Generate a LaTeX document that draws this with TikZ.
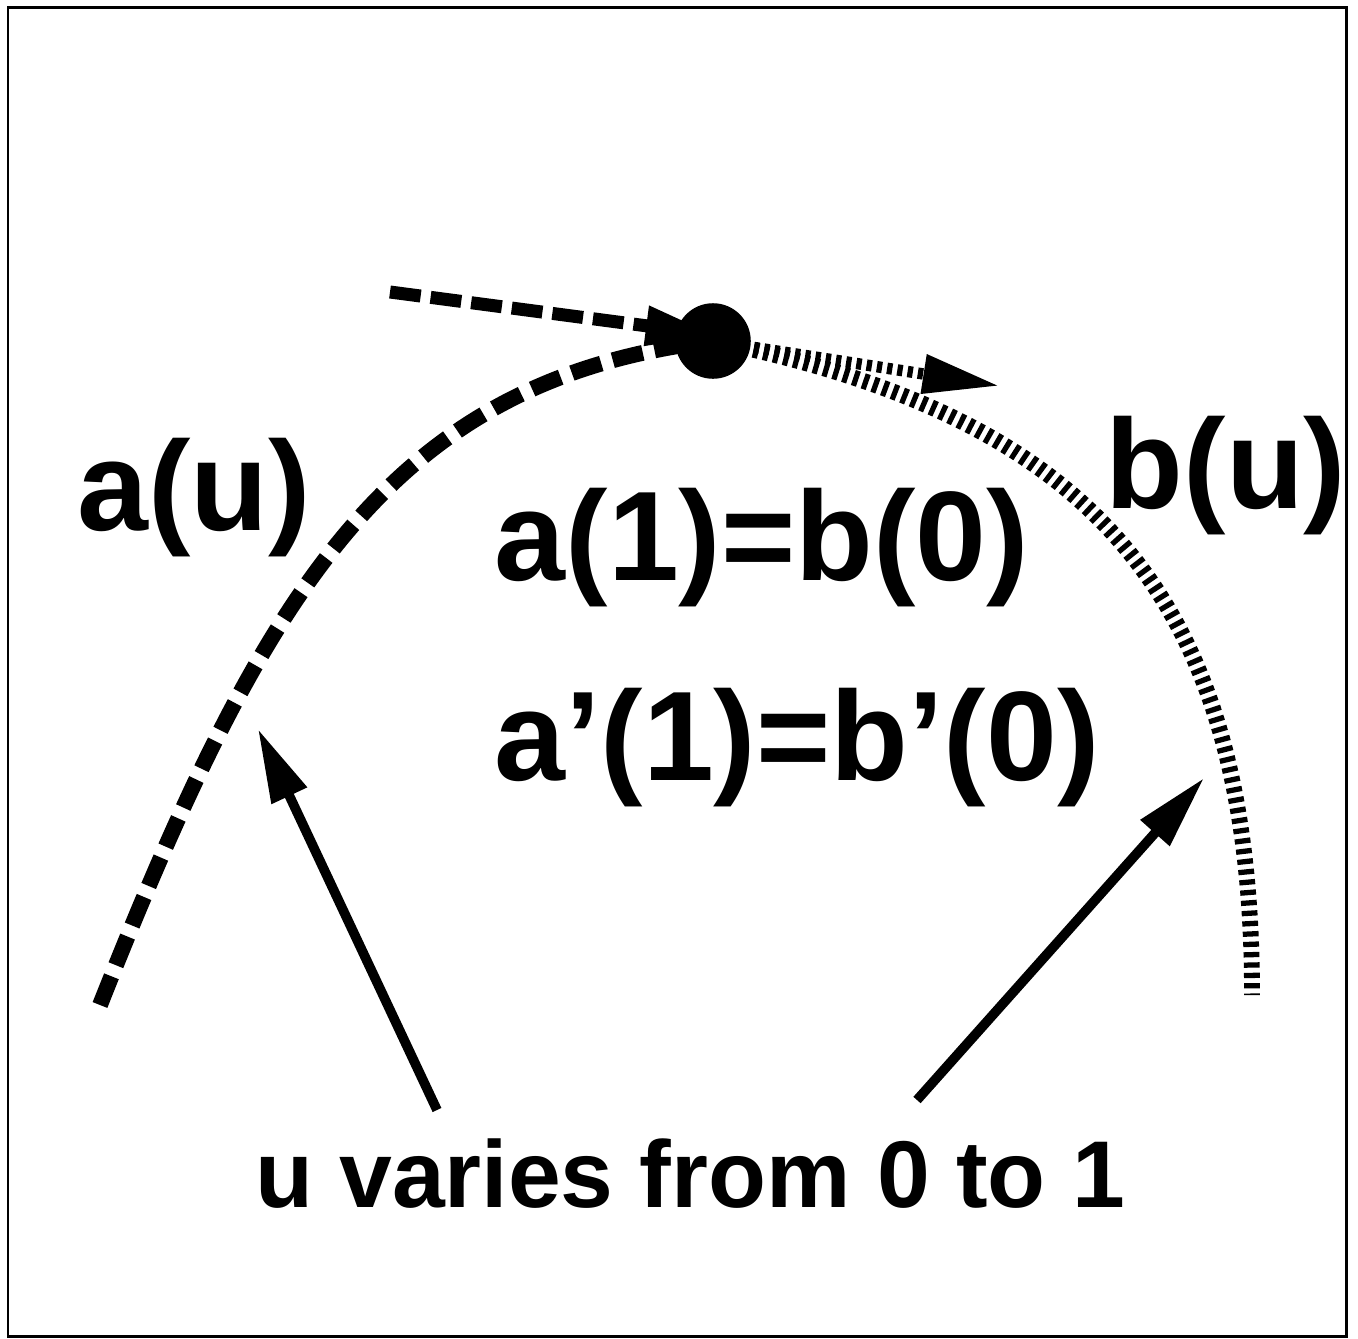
\documentclass[tikz,border=0pt]{standalone}
\usepackage{fontspec}
\setmainfont{Liberation Sans}
\usetikzlibrary{arrows.meta}
\begin{document}
\begin{tikzpicture}[x=0.02cm,y=-0.02cm,
  bigtxt/.style={inner sep=0pt,anchor=base,font=\fontsize{72.5}{80}\selectfont\bfseries},
  smalltxt/.style={inner sep=0pt,anchor=base,font=\fontsize{54}{60}\selectfont\bfseries},
  curvea/.style={line width=9pt,dash pattern=on 17.6pt off 6.8pt},
  curveb/.style={line width=9pt,dash pattern=on 3pt off 2.9pt},
  tana/.style={line width=7.4pt,dash pattern=on 17.6pt off 5.7pt,-{Triangle[length=40pt,width=21pt]}},
  tanb/.style={line width=6.5pt,dash pattern=on 3pt off 2.9pt,-{Triangle[length=44pt,width=21pt]}},
  pointer/.style={line width=5.5pt,-{Triangle[length=42pt,width=21pt]}},
  joindot/.style={circle,fill=black,inner sep=0pt,minimum size=43pt}]
\useasboundingbox (0,0) rectangle (1358,1338);
\draw[line width=1.7pt] (8,7.5) rectangle (1346,1336);
% named points
\coordinate (astart) at (100,1005);
\coordinate (bend) at (1252,995);
\coordinate (tanastart) at (390,292);
\coordinate (tanaend) at (716,335);
\coordinate (tanbend) at (1000,386);
\coordinate (p1start) at (437,1110);
\coordinate (p1end) at (258,729);
\coordinate (p2start) at (917,1100);
\coordinate (p2end) at (1204,778);
\coordinate (J) at (713,341);
% curves
\draw[curvea] (astart) .. controls (266,586) and (392,380) .. (J);
\draw[curveb] (J) .. controls (1092,418) and (1252,595) .. (bend);
% tangents
\draw[tana] (tanastart) -- (tanaend);
\draw[tanb] (J) -- (tanbend);
% dot
\node[joindot] (join) at (J) {};
% pointer arrows
\draw[pointer] (p1start) -- (p1end);
\draw[pointer] (p2start) -- (p2end);
% texts
\node[bigtxt] (la) at (194,530) {a(u)};
\node[bigtxt] (lb) at (1226,508) {b(u)};
\node[bigtxt] (eq1) at (762,580) {a(1)=b(0)};
\node[bigtxt] (eq2) at (797,780) {a’(1)=b’(0)};
\node[smalltxt] (note) at (690,1207) {u varies from 0 to 1};
\end{tikzpicture}
\end{document}
